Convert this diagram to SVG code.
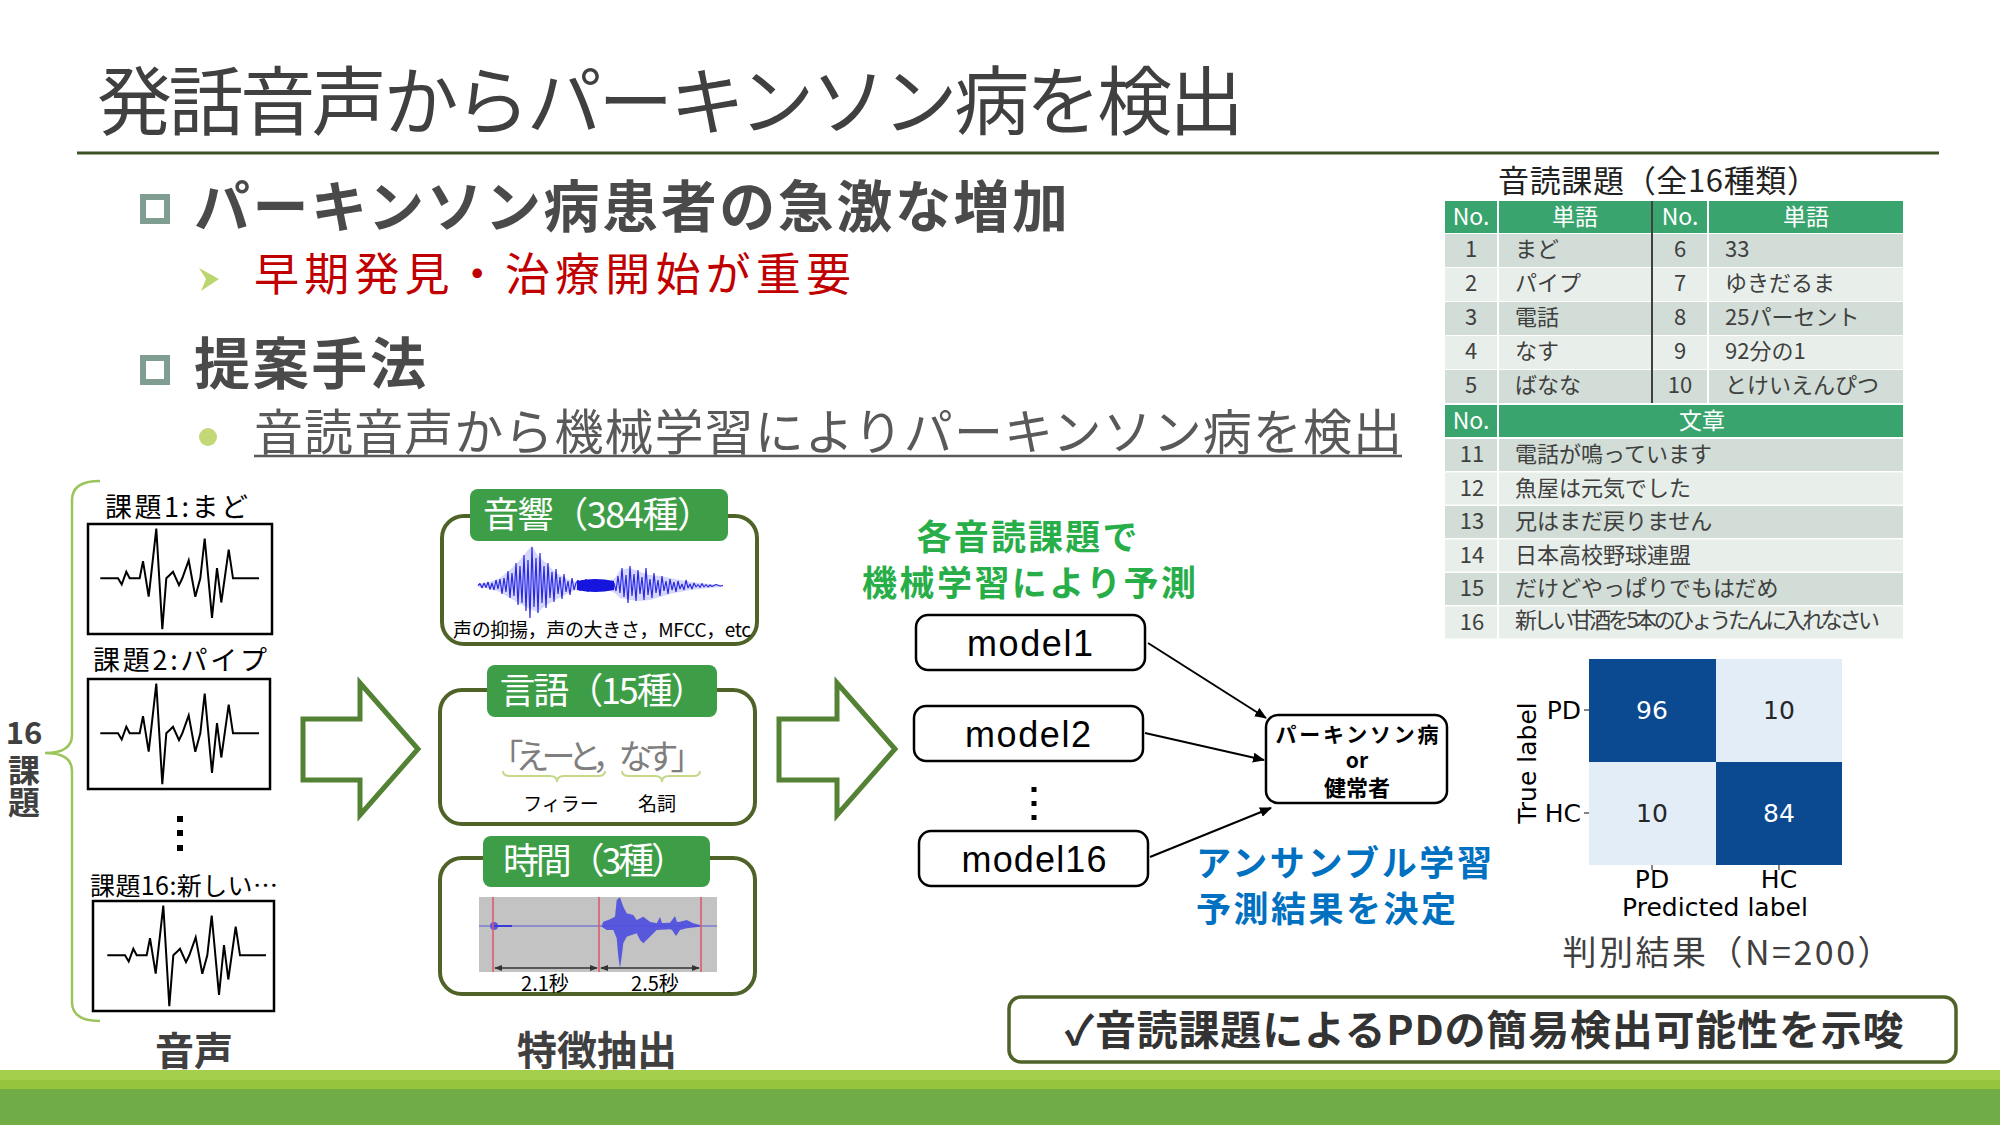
<svg xmlns="http://www.w3.org/2000/svg" xmlns:xlink="http://www.w3.org/1999/xlink" width="2000" height="1125" viewBox="0 0 2000 1125">
<style>
.jp{font-family:"Noto Sans CJK JP","Noto Sans",sans-serif;}
.b{font-weight:bold;}
.dg{fill:#404040;}
.tb{font-family:"Noto Sans CJK JP","Noto Sans",sans-serif;font-size:22px;fill:#404040;}
.th{font-family:"Noto Sans CJK JP","Noto Sans",sans-serif;font-size:23px;fill:#ffffff;text-anchor:middle;}
.mid{text-anchor:middle;}
.hd{fill:#3aa46e;}
.rd{fill:#d1ddd6;}
.rl{fill:#e8efea;}
.wbox{fill:#ffffff;stroke:#000000;stroke-width:2.5;}
.fbox{fill:#ffffff;stroke:#4f6228;stroke-width:4;}
.flab{fill:#3d9e47;}
.fl{font-family:"Noto Sans CJK JP","Noto Sans",sans-serif;font-size:36px;fill:#ffffff;text-anchor:middle;}
.mbox{fill:#ffffff;stroke:#000000;stroke-width:2.5;}
.mt{font-family:"Liberation Sans",Arial,sans-serif;font-size:36px;fill:#000000;text-anchor:middle;}
.conn{stroke:#000000;stroke-width:2;fill:none;marker-end:url(#ah);}
.harrow{fill:#ffffff;stroke:#548235;stroke-width:5;stroke-linejoin:miter;}
.cm{font-family:"DejaVu Sans",sans-serif;font-size:25px;}
.green{fill:#27ae48;}
.blue{fill:#0070c0;}
</style>
<defs>
<marker id="ah" markerWidth="12" markerHeight="10" refX="11" refY="5" orient="auto" markerUnits="userSpaceOnUse">
<path d="M0,0 L12,5 L0,10 Z" fill="#000000"/>
</marker>
<marker id="sa" markerWidth="8" markerHeight="6" refX="7" refY="3" orient="auto-start-reverse" markerUnits="userSpaceOnUse">
<path d="M0,0 L8,3 L0,6 Z" fill="#333333"/>
</marker>
<path id="wv" d="M12.3,54.3 H30 L33.7,60.5 L38.3,47.8 L41.7,54.3 H51.7 L55,37.1 L60.7,72.7 L68.3,4.6 L74.3,105.2 L78.3,54.3 L82.3,50.5 L85,47.8 L91,61.2 L94.3,54.3 L100.7,36.4 L107.3,72.7 L112.3,54.3 L116.7,14.5 L124,93.8 L129,44 L133.3,78.5 L140.7,25.6 L145,54.3 H171" fill="none" stroke="#000000" stroke-width="2" stroke-linejoin="miter"/>
</defs>
<rect width="2000" height="1125" fill="#ffffff"/>

<!-- Title -->
<g id="title">
<text x="97" y="129" class="jp dg" font-size="75" textLength="1147">発話音声からパーキンソン病を検出</text>
<line x1="77" y1="153" x2="1939" y2="153" stroke="#3b5323" stroke-width="3"/>
</g>

<!-- Bullets -->
<g id="bullets">
<rect x="143" y="197" width="24" height="24" fill="none" stroke="#809d91" stroke-width="6"/>
<text x="194" y="227" class="jp b" font-size="56" fill="#4a4a4a" textLength="874">パーキンソン病患者の急激な増加</text>
<polygon points="199,268 219,279 201,291 206,279" fill="#b9d76e"/>
<text x="254" y="291" class="jp" font-size="45" fill="#c00000" textLength="597">早期発見・治療開始が重要</text>
<rect x="143" y="358" width="24" height="24" fill="none" stroke="#809d91" stroke-width="6"/>
<text x="194" y="384" class="jp b" font-size="56" fill="#4a4a4a" textLength="232">提案手法</text>
<circle cx="208" cy="437" r="9" fill="#c3d877"/>
<text x="254" y="450" class="jp" font-size="49" fill="#595959" textLength="1148">音読音声から機械学習によりパーキンソン病を検出</text>
<line x1="254" y1="456" x2="1402" y2="456" stroke="#595959" stroke-width="2.5"/>
</g>

<!-- Table -->
<g id="table">
<text x="1658" y="192" class="jp mid" font-size="31" fill="#222222" textLength="320">音読課題（全16種類）</text>
<rect class="hd" x="1445" y="201" width="52" height="32"/>
<rect class="hd" x="1499" y="201" width="152" height="32"/>
<rect class="hd" x="1653" y="201" width="54" height="32"/>
<rect class="hd" x="1709" y="201" width="194" height="32"/>
<text class="th" x="1471" y="225">No.</text>
<text class="th" x="1575" y="225">単語</text>
<text class="th" x="1680" y="225">No.</text>
<text class="th" x="1806" y="225">単語</text>

<rect class="rd" x="1445" y="234" width="52" height="33"/><rect class="rd" x="1499" y="234" width="152" height="33"/><rect class="rd" x="1653" y="234" width="54" height="33"/><rect class="rd" x="1709" y="234" width="194" height="33"/>
<rect class="rl" x="1445" y="268" width="52" height="33"/><rect class="rl" x="1499" y="268" width="152" height="33"/><rect class="rl" x="1653" y="268" width="54" height="33"/><rect class="rl" x="1709" y="268" width="194" height="33"/>
<rect class="rd" x="1445" y="302" width="52" height="33"/><rect class="rd" x="1499" y="302" width="152" height="33"/><rect class="rd" x="1653" y="302" width="54" height="33"/><rect class="rd" x="1709" y="302" width="194" height="33"/>
<rect class="rl" x="1445" y="336" width="52" height="33"/><rect class="rl" x="1499" y="336" width="152" height="33"/><rect class="rl" x="1653" y="336" width="54" height="33"/><rect class="rl" x="1709" y="336" width="194" height="33"/>
<rect class="rd" x="1445" y="370" width="52" height="33"/><rect class="rd" x="1499" y="370" width="152" height="33"/><rect class="rd" x="1653" y="370" width="54" height="33"/><rect class="rd" x="1709" y="370" width="194" height="33"/>
<line x1="1652" y1="201" x2="1652" y2="403" stroke="#404040" stroke-width="2"/>

<text class="tb mid" x="1471" y="257">1</text><text class="tb" x="1515" y="257">まど</text><text class="tb mid" x="1680" y="257">6</text><text class="tb" x="1725" y="257">33</text>
<text class="tb mid" x="1471" y="291">2</text><text class="tb" x="1515" y="291">パイプ</text><text class="tb mid" x="1680" y="291">7</text><text class="tb" x="1725" y="291">ゆきだるま</text>
<text class="tb mid" x="1471" y="325">3</text><text class="tb" x="1515" y="325">電話</text><text class="tb mid" x="1680" y="325">8</text><text class="tb" x="1725" y="325">25パーセント</text>
<text class="tb mid" x="1471" y="359">4</text><text class="tb" x="1515" y="359">なす</text><text class="tb mid" x="1680" y="359">9</text><text class="tb" x="1725" y="359">92分の1</text>
<text class="tb mid" x="1471" y="393">5</text><text class="tb" x="1515" y="393">ばなな</text><text class="tb mid" x="1680" y="393">10</text><text class="tb" x="1725" y="393">とけいえんぴつ</text>

<rect class="hd" x="1445" y="405" width="52" height="32"/>
<rect class="hd" x="1499" y="405" width="404" height="32"/>
<text class="th" x="1471" y="429">No.</text>
<text class="th" x="1702" y="429">文章</text>

<rect class="rd" x="1445" y="439" width="52" height="32"/><rect class="rd" x="1499" y="439" width="404" height="32"/>
<rect class="rl" x="1445" y="472.5" width="52" height="32"/><rect class="rl" x="1499" y="472.5" width="404" height="32"/>
<rect class="rd" x="1445" y="506" width="52" height="32"/><rect class="rd" x="1499" y="506" width="404" height="32"/>
<rect class="rl" x="1445" y="539.5" width="52" height="32"/><rect class="rl" x="1499" y="539.5" width="404" height="32"/>
<rect class="rd" x="1445" y="573" width="52" height="32"/><rect class="rd" x="1499" y="573" width="404" height="32"/>
<rect class="rl" x="1445" y="606.5" width="52" height="32"/><rect class="rl" x="1499" y="606.5" width="404" height="32"/>

<text class="tb mid" x="1472" y="462">11</text><text class="tb" x="1515" y="462">電話が鳴っています</text>
<text class="tb mid" x="1472" y="495.5">12</text><text class="tb" x="1515" y="495.5">魚屋は元気でした</text>
<text class="tb mid" x="1472" y="529">13</text><text class="tb" x="1515" y="529">兄はまだ戻りません</text>
<text class="tb mid" x="1472" y="562.5">14</text><text class="tb" x="1515" y="562.5">日本高校野球連盟</text>
<text class="tb mid" x="1472" y="596">15</text><text class="tb" x="1515" y="596">だけどやっぱりでもはだめ</text>
<text class="tb mid" x="1472" y="629.5">16</text><text class="tb" x="1515" y="628" font-size="18" textLength="365">新しい甘酒を5本のひょうたんに入れなさい</text>
</g>

<!-- Left: voice tasks -->
<g id="tasks">
<path d="M100,481 Q72,481 72,500 V735 Q72,753 45,753 Q72,753 72,771 V1002 Q72,1021 100,1021" fill="none" stroke="#9bc45a" stroke-width="2.5"/>
<text x="24" y="744" class="jp b dg mid" font-size="31">16</text>
<text x="24" y="754" class="jp b dg" font-size="32" style="writing-mode:vertical-rl">課題</text>
</g>
<g id="task1">
<text x="105" y="517" class="jp" font-size="27" fill="#000000" textLength="143">課題1:まど</text>
<rect class="wbox" x="88" y="524" width="184" height="110"/>
<use xlink:href="#wv" href="#wv" transform="translate(88,524)"/>
</g>
<g id="task2">
<text x="93" y="670" class="jp" font-size="27" fill="#000000" textLength="174">課題2:パイプ</text>
<rect class="wbox" x="88" y="679" width="182" height="110"/>
<use xlink:href="#wv" href="#wv" transform="translate(88,679)"/>
</g>
<g id="taskdots">
<rect x="177" y="816" width="6" height="6" fill="#000000"/>
<rect x="177" y="830" width="6" height="6" fill="#000000"/>
<rect x="177" y="845" width="6" height="6" fill="#000000"/>
</g>
<g id="task16">
<text x="90" y="895" class="jp" font-size="25" fill="#000000" textLength="188">課題16:新しい…</text>
<rect class="wbox" x="93" y="901" width="181" height="110"/>
<use xlink:href="#wv" href="#wv" transform="translate(95,901)"/>
</g>
<text x="194" y="1065" class="jp b dg mid" font-size="39">音声</text>

<!-- Feature extraction -->
<g id="feat-acoustic">
<rect class="fbox" x="442" y="516" width="315" height="128" rx="22"/>
<rect class="flab" x="470" y="489" width="258" height="52" rx="8"/>
<text class="fl" x="598" y="528" textLength="230">音響（384種）</text>
<polygon points="478,584 490,582 500,578 510,570 520,560 528,550 532,546 538,556 545,562 555,572 565,578 575,582 590,580 600,580 610,581 615,578 620,570 630,568 640,572 650,575 660,576 670,578 680,580 690,582 700,583 710,584 723,585 723,587 710,588 700,589 690,590 680,592 670,594 660,597 650,600 640,601 630,600 620,598 615,593 610,591 600,591 590,591 575,590 565,595 555,600 545,606 538,612 532,610 528,608 520,604 510,598 500,592 490,589 478,587" fill="#b4b4f6" opacity="0.55"/>
<polyline points="478,585.5 480,583.5 482,588 484,583 486,587.5 488,582 490,589.5 492,583 494,590 496,580 498,589 500,579 502,594 504,578 506,592 508,571 510,598 512,573 514,596 516,563 518,605 520,566 522,603 524,555 526,611 528,560 530,618 532,547 534,607 536,558 538,613 540,553 542,603 544,566 546,608 548,563 550,598 552,572 554,602 556,569 558,594 560,577 562,599 564,574 566,592 568,581 570,595 572,578 574,590 576,583 578,580 580,591 582,580 584,591 586,579 588,592 590,580 592,591 594,579 596,592 598,580 600,591 602,580 604,590 606,581 608,590 610,582 612,589 614,583 616,591 618,576 620,593 622,568 624,597 626,575 628,603 630,566 632,596 634,574 636,601 638,570 640,594 642,577 644,600 646,568 648,595 650,579 652,598 654,573 656,593 658,580 660,596 662,576 664,591 666,581 668,594 670,579 672,590 674,582 676,592 678,581 680,589 682,584 684,590 686,580 688,588 690,584 692,589 694,583 696,587 698,584.5 700,587.5 702,583.5 704,587 706,584.5 708,587 710,585 712,586.5 716,584.5 720,586 723,585.5" fill="none" stroke="#2a2ae6" stroke-width="1.2" stroke-linejoin="bevel"/>
<path d="M577,581 Q595,577 614,581 L614,590 Q595,594 577,590 Z" fill="#1515dd"/>
<text x="602" y="637" class="jp mid" font-size="19" fill="#000000" textLength="298">声の抑揚，声の大きさ，MFCC，etc</text>
</g>
<g id="feat-language">
<rect class="fbox" x="440" y="690" width="315" height="134" rx="22"/>
<rect class="flab" x="487" y="665" width="230" height="52" rx="8"/>
<text class="fl" x="603" y="704" textLength="207">言語（15種）</text>
<text x="597" y="769" class="jp mid" font-size="34" fill="#7f7f7f" textLength="215">「えーと，なす」</text>
<path d="M503,771 Q503,776 510,776 H550 Q557,776 557,782 Q557,776 564,776 H598 Q605,776 605,771" fill="none" stroke="#c5d88a" stroke-width="2"/>
<path d="M622,771 Q622,776 629,776 H655 Q662,776 662,782 Q662,776 669,776 H693 Q700,776 700,771" fill="none" stroke="#c5d88a" stroke-width="2"/>
<text x="561" y="811" class="jp mid" font-size="19" fill="#000000">フィラー</text>
<text x="657" y="811" class="jp mid" font-size="19" fill="#000000">名詞</text>
</g>
<g id="feat-time">
<rect class="fbox" x="440" y="858" width="315" height="136" rx="22"/>
<rect class="flab" x="483" y="836" width="227" height="51" rx="8"/>
<text class="fl" x="595" y="874" textLength="184">時間（3種）</text>
<rect x="479" y="897" width="238" height="75" fill="#c3c3c3"/>
<line x1="479" y1="926" x2="717" y2="926" stroke="#5b5bd6" stroke-width="1.2"/>
<polygon points="601.7,925.7 603.3,921.7 610,919.3 615,916.7 616.7,900 620,897.3 623.3,906.7 626.7,913.3 633.3,915 636.7,920 643.3,916.7 650,921.7 656.7,923.3 660,917 662,923 670,922.7 675,916 677,922 680,921.7 686.7,920 693.3,923.3 700,925 701.7,925.7 700,926.7 686.7,928.3 680,930 676,936 672,930 670,929.3 656.7,930 650,936.7 643.3,943.3 640,940 636.7,933.3 626.7,936.7 623.3,943.3 621.7,956.7 620,968.3 618.3,956.7 616.7,938.3 613.3,930 606.7,930 601.7,926.7" fill="#4d4de0" opacity="0.9"/>
<ellipse cx="494" cy="926" rx="4" ry="4" fill="#5a5ae0"/>
<line x1="494" y1="926" x2="512" y2="926" stroke="#3a3ad8" stroke-width="2"/>
<line x1="493" y1="897" x2="493" y2="972" stroke="#e05464" stroke-width="1.5"/>
<line x1="599" y1="897" x2="599" y2="972" stroke="#e05464" stroke-width="1.5"/>
<line x1="701" y1="897" x2="701" y2="972" stroke="#e05464" stroke-width="1.5"/>
<line x1="495" y1="968" x2="597" y2="968" stroke="#333333" stroke-width="1.5" marker-start="url(#sa)" marker-end="url(#sa)"/>
<line x1="601" y1="968" x2="699" y2="968" stroke="#333333" stroke-width="1.5" marker-start="url(#sa)" marker-end="url(#sa)"/>
<text x="545" y="991" class="jp mid" font-size="20" fill="#000000">2.1秒</text>
<text x="655" y="991" class="jp mid" font-size="20" fill="#000000">2.5秒</text>
</g>
<text x="597" y="1065" class="jp b dg mid" font-size="40">特徴抽出</text>

<!-- Block arrows -->
<g id="arrow1"><polygon class="harrow" points="303,719 360,719 360,683 418,749 360,815 360,780 303,780"/></g>
<g id="arrow2"><polygon class="harrow" points="779,719 837,719 837,683 895,749 837,815 837,780 779,780"/></g>

<!-- Models -->
<text x="1027" y="550" class="jp b green mid" font-size="35" textLength="221">各音読課題で</text>
<text x="1029" y="596" class="jp b green mid" font-size="35" textLength="334">機械学習により予測</text>
<g id="model1">
<rect class="mbox" x="916" y="615" width="229" height="55" rx="12"/>
<text class="mt" x="1030" y="656" textLength="126">model1</text>
</g>
<g id="model2">
<rect class="mbox" x="914" y="706" width="229" height="55" rx="12"/>
<text class="mt" x="1028" y="747" textLength="126">model2</text>
</g>
<g id="modeldots">
<rect x="1031.5" y="787" width="5" height="5" fill="#000000"/>
<rect x="1031.5" y="801" width="5" height="5" fill="#000000"/>
<rect x="1031.5" y="815" width="5" height="5" fill="#000000"/>
</g>
<g id="model16">
<rect class="mbox" x="919" y="831" width="229" height="55" rx="12"/>
<text class="mt" x="1034" y="872" textLength="145">model16</text>
</g>
<g id="result">
<rect class="mbox" x="1266" y="715" width="181" height="88" rx="12"/>
<text x="1357" y="742" class="jp b mid" font-size="21" fill="#000000" textLength="163">パーキンソン病</text>
<text x="1357" y="768" class="jp b mid" font-size="21" fill="#000000">or</text>
<text x="1357" y="796" class="jp b mid" font-size="22" fill="#000000">健常者</text>
</g>
<g id="connectors">
<line class="conn" x1="1148" y1="643" x2="1266" y2="718"/>
<line class="conn" x1="1145" y1="733" x2="1264" y2="760"/>
<line class="conn" x1="1150" y1="857" x2="1271" y2="808"/>
</g>
<text x="1196" y="876" class="jp b blue" font-size="35" textLength="296">アンサンブル学習</text>
<text x="1196" y="922" class="jp b blue" font-size="35" textLength="260">予測結果を決定</text>

<!-- Confusion matrix -->
<g id="confusion">
<rect x="1589" y="659" width="127" height="103" fill="#0b4a91"/>
<rect x="1716" y="659" width="126" height="103" fill="#e2edf8"/>
<rect x="1589" y="762" width="127" height="103" fill="#e2edf8"/>
<rect x="1716" y="762" width="126" height="103" fill="#0b4a91"/>
<text class="cm mid" x="1652" y="719" fill="#ffffff">96</text>
<text class="cm mid" x="1779" y="719" fill="#262626">10</text>
<text class="cm mid" x="1652" y="822" fill="#262626">10</text>
<text class="cm mid" x="1779" y="822" fill="#ffffff">84</text>
<line x1="1584" y1="710" x2="1589" y2="710" stroke="#333" stroke-width="1.2"/>
<line x1="1584" y1="813" x2="1589" y2="813" stroke="#333" stroke-width="1.2"/>
<line x1="1652" y1="865" x2="1652" y2="870" stroke="#333" stroke-width="1.2"/>
<line x1="1779" y1="865" x2="1779" y2="870" stroke="#333" stroke-width="1.2"/>
<text class="cm" x="1581" y="719" text-anchor="end" fill="#000000">PD</text>
<text class="cm" x="1581" y="822" text-anchor="end" fill="#000000">HC</text>
<text class="cm mid" x="1652" y="888" fill="#000000" font-size="24">PD</text>
<text class="cm mid" x="1779" y="888" fill="#000000" font-size="24">HC</text>
<text class="cm mid" x="1715" y="916" fill="#000000">Predicted label</text>
<text class="cm mid" transform="translate(1536,763) rotate(-90)" fill="#000000">True label</text>
<text x="1727" y="965" class="jp dg mid" font-size="34" textLength="329">判別結果（N=200）</text>
</g>

<!-- Conclusion -->
<g id="conclusion">
<rect x="1009" y="997" width="947" height="65" rx="12" fill="#ffffff" stroke="#4f6228" stroke-width="3.5"/>
<text x="1484" y="1045" class="jp b mid" font-size="41" fill="#333333" textLength="839">✓音読課題によるPDの簡易検出可能性を示唆</text>
</g>

<!-- Footer -->
<g id="footer">
<rect x="0" y="1070" width="2000" height="10" fill="#a3cf4d"/>
<rect x="0" y="1080" width="2000" height="9" fill="#96c43c"/>
<rect x="0" y="1089" width="2000" height="36" fill="#70ad47"/>
</g>
</svg>
